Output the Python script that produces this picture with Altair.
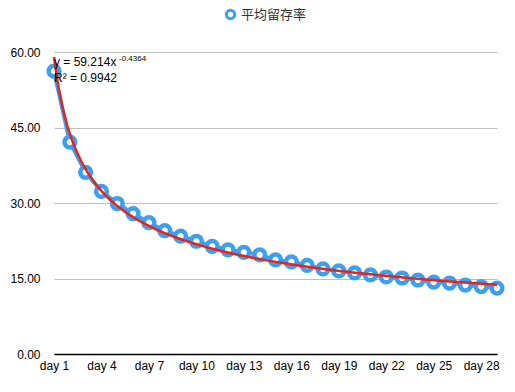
import altair as alt
import pandas as pd

days = list(range(1, 30))
retention = [56.2, 42.1, 36.1, 32.3, 29.9, 27.9, 26.1, 24.5, 23.4, 22.4,
             21.4, 20.7, 20.2, 19.7, 18.7, 18.3, 17.6, 16.9, 16.5, 16.1,
             15.7, 15.3, 15.1, 14.7, 14.3, 14.1, 13.7, 13.4, 13.1]
series_name = "平均留存率"
x_ticks = [1, 4, 7, 10, 13, 16, 19, 22, 25, 28]
y_ticks = [0, 15, 30, 45, 60]
eq_main = "y = 59.214x"
eq_exp = "-0.4364"
eq_r2 = "R² = 0.9942"

df = pd.DataFrame({"day": days, "value": retention, "series": series_name})

blue = "#3d9ff0"
red = "#e8231c"

x = alt.X("day:Q", scale=alt.Scale(domain=[1, 29], nice=False, zero=False),
          axis=alt.Axis(values=x_ticks, labelExpr="'day ' + datum.value", title=None,
                        grid=False, ticks=False, domain=True, domainColor="#000000",
                        domainWidth=1.5, labelPadding=6, labelFontSize=12,
                        labelFlush=False, labelOverlap=False,
                        labelColor="#000000", labelFont="Helvetica, Liberation Sans, Arial"))
y = alt.Y("value:Q", scale=alt.Scale(domain=[0, 60], nice=False),
          axis=alt.Axis(values=y_ticks, format=".2f", title=None, grid=True,
                        gridColor="#bdbdbd", gridWidth=1.2, ticks=False, domain=False,
                        labelPadding=14, labelFontSize=12, labelColor="#000000",
                        labelFont="Helvetica, Liberation Sans, Arial"))

base = alt.Chart(df)

line = base.mark_line(color=blue, strokeWidth=4).encode(x=x, y=y)

points = base.mark_point(shape="circle", filled=False, fill="white", fillOpacity=1,
                         size=115, strokeWidth=4.5, opacity=1).encode(
    x=x, y=y,
    color=alt.Color("series:N", scale=alt.Scale(range=[blue]),
                    legend=alt.Legend(title=None, orient="none", legendX=170, legendY=-44,
                                      symbolSize=70, symbolStrokeWidth=3,
                                      labelFontSize=13, labelColor="#333333",
                                      labelFont="Helvetica, Liberation Sans, Noto Sans CJK SC")))

trend = base.transform_regression("day", "value", method="pow", extent=[1, 29]).mark_line(
    color=red, strokeWidth=2.5).encode(x=x, y=y)

ann = pd.DataFrame({"day": [1, 1], "value": [58.1, 54.9], "label": [eq_main, eq_r2]})
ann_text = alt.Chart(ann).mark_text(align="left", baseline="middle", fontSize=12,
                                    color="#000000",
                                    font="Helvetica, Liberation Sans, Arial").encode(
    x=alt.X("day:Q"), y=alt.Y("value:Q"), text="label:N")
sup = pd.DataFrame({"day": [1], "value": [58.6], "label": [eq_exp]})
sup_text = alt.Chart(sup).mark_text(align="left", baseline="middle", fontSize=8, dx=65,
                                    color="#000000",
                                    font="Helvetica, Liberation Sans, Arial").encode(
    x=alt.X("day:Q"), y=alt.Y("value:Q"), text="label:N")

chart = alt.layer(line, points, trend, ann_text, sup_text).properties(
    width=443, height=302,
    autosize=alt.AutoSizeParams(type="none"),
    padding={"left": 46, "top": 44, "right": 10, "bottom": 30},
).configure_view(stroke=None)

chart.save("out.html", embed_options={"renderer": "svg", "actions": False})
